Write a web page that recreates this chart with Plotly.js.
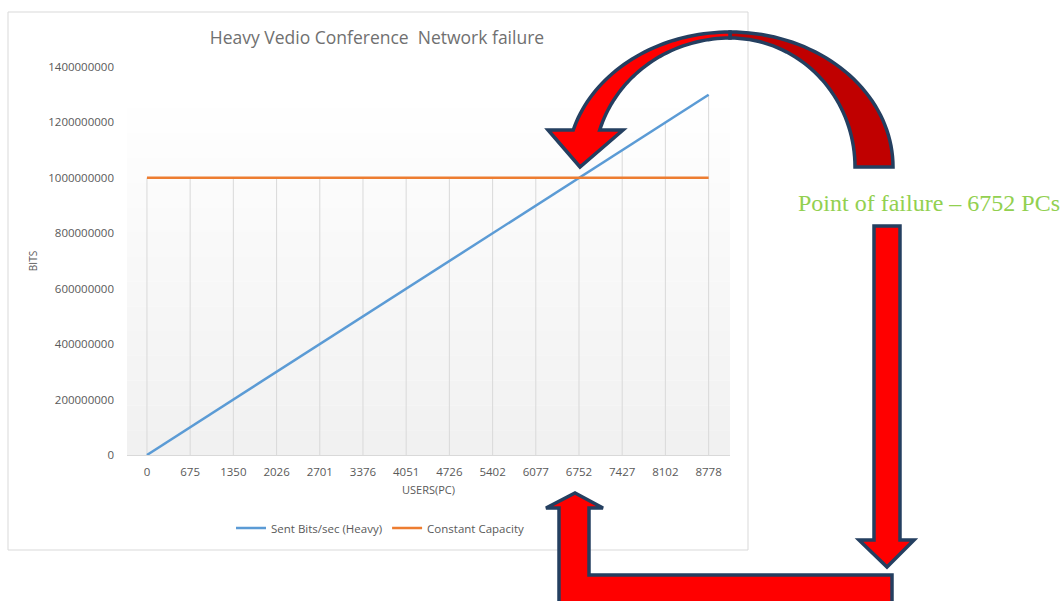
<!DOCTYPE html>
<html>
<head>
<meta charset="utf-8">
<script src="https://cdn.plot.ly/plotly-3.0.1.min.js"></script>
<style>
html,body{margin:0;padding:0;background:#fff;}
#chart{width:1063px;height:601px;}
</style>
</head>
<body>
<div id="chart"></div>
<script>
// ---- data ----
const users = [0, 675, 1350, 2026, 2701, 3376, 4051, 4726, 5402, 6077, 6752, 7427, 8102, 8778];
const userLabels = ["0","675","1350","2026","2701","3376","4051","4726","5402","6077","6752","7427","8102","8778"];
const sentBits = [0, 100000000, 200000000, 300000000, 400000000, 500000000, 600000000, 700000000, 800000000, 900000000, 1000000000, 1100000000, 1200000000, 1300000000];
const capacity = [1000000000, 1000000000, 1000000000, 1000000000, 1000000000, 1000000000, 1000000000, 1000000000, 1000000000, 1000000000, 1000000000, 1000000000, 1000000000, 1000000000];
const yTicks = [0, 200000000, 400000000, 600000000, 800000000, 1000000000, 1200000000, 1400000000];
const yTickLabels = ["0","200000000","400000000","600000000","800000000","1000000000","1200000000","1400000000"];
const seriesNames = ["Sent Bits/sec (Heavy)", "Constant Capacity"];
const titleText = "Heavy Vedio Conference&nbsp;&nbsp;Network failure";
const noteText = "Point of failure \u2013 6752 PCs";

// ---- geometry helpers (pixel -> paper) ----
const L = 127, T = 67, W = 603, H = 388, FW = 1063, FH = 601;
const px = x => (x - L) / W;
const py = y => 1 - (y - T) / H;
function pathOf(pts) {
  return 'M' + pts.map(p => px(p[0]).toFixed(5) + ',' + py(p[1]).toFixed(5)).join('L') + 'Z';
}
function ell(cx, cy, rx, ry, a0, a1, n) {
  const out = [];
  for (let i = 0; i <= n; i++) {
    const a = a0 + (a1 - a0) * i / n;
    out.push([cx + rx * Math.cos(a), cy - ry * Math.sin(a)]);
  }
  return out;
}

// drop lines from data
const dropX = [], dropY = [];
users.forEach((u, i) => {
  dropX.push(u, u, null);
  dropY.push(0, Math.max(sentBits[i], capacity[i]), null);
});

const traces = [
  {x: dropX, y: dropY, mode: 'lines', line: {color: '#d9d9d9', width: 1}, showlegend: false, hoverinfo: 'skip'},
  {x: users, y: sentBits, name: seriesNames[0], mode: 'lines', line: {color: '#5b9bd5', width: 2.5}},
  {x: users, y: capacity, name: seriesNames[1], mode: 'lines', line: {color: '#ed7d31', width: 2.5}}
];

// shapes
const shapes = [];
// chart box border
shapes.push({type: 'rect', xref: 'paper', yref: 'paper', x0: px(8), x1: px(748), y0: py(12), y1: py(550),
  line: {color: '#d9d9d9', width: 1}, fillcolor: 'rgba(0,0,0,0)', layer: 'below'});
// plot area gradient
const gTop = 108, gBot = 455, nb = 14;
for (let i = 0; i < nb; i++) {
  const y0 = gTop + (gBot - gTop) * i / nb, y1 = gTop + (gBot - gTop) * (i + 1) / nb;
  const c = Math.round(254 - (254 - 240) * (i + 0.5) / nb);
  shapes.push({type: 'rect', xref: 'paper', yref: 'paper', x0: 0, x1: 1, y0: py(y1), y1: py(y0),
    line: {width: 0}, fillcolor: `rgb(${c},${c},${c})`, layer: 'below'});
}

const navy = '#243f60';
const cx = 730, cy = 167;
// dark back part of curved arrow
{
  const outer = ell(cx, cy, 163, 135, Math.PI / 2, 0, 40);
  const inner = ell(cx, cy, 125, 129, 0, Math.PI / 2, 40);
  shapes.push({type: 'path', xref: 'paper', yref: 'paper', path: pathOf(outer.concat(inner)),
    fillcolor: '#c00000', line: {color: navy, width: 3.5}, layer: 'above'});
}
// bright front part with head
{
  const aO = Math.PI - Math.asin(37 / 135);
  const aI = Math.PI - Math.asin(37 / 129);
  const outer = ell(cx, cy, 163, 135, aO, Math.PI / 2, 40);
  const inner = ell(cx, cy, 136, 129, Math.PI / 2, aI, 40);
  const pts = [[548, 130]].concat(outer, inner, [[623, 130], [580, 167]]);
  shapes.push({type: 'path', xref: 'paper', yref: 'paper', path: pathOf(pts),
    fillcolor: '#ff0000', line: {color: navy, width: 3.5}, layer: 'above'});
}
// straight down arrow
shapes.push({type: 'path', xref: 'paper', yref: 'paper',
  path: pathOf([[874, 226], [900, 226], [900, 540], [914, 540], [887, 567], [859, 540], [874, 540]]),
  fillcolor: '#ff0000', line: {color: navy, width: 3.5}, layer: 'above'});
// bent up arrow
shapes.push({type: 'path', xref: 'paper', yref: 'paper',
  path: pathOf([[559, 610], [559, 508], [546, 508], [575, 493], [603, 508], [589, 508], [589, 575], [892, 575], [892, 610]]),
  fillcolor: '#ff0000', line: {color: navy, width: 3.5}, layer: 'above'});

const tickFont = {family: 'Open Sans, sans-serif', size: 11.5, color: '#595959'};

const layout = {
  width: FW, height: FH,
  margin: {l: L, r: FW - L - W, t: T, b: FH - T - H, pad: 0},
  paper_bgcolor: '#ffffff', plot_bgcolor: 'rgba(0,0,0,0)',
  title: {text: titleText, font: {family: 'Open Sans, sans-serif', size: 17.5, color: '#707070'},
    xref: 'container', yref: 'container', x: 377 / FW, y: 1 - 38 / FH, xanchor: 'center', yanchor: 'middle'},
  xaxis: {
    range: [-312, 9112], tickvals: users, ticktext: userLabels, showgrid: false, zeroline: false,
    showline: true, linecolor: '#d9d9d9', linewidth: 1, ticks: '', tickfont: tickFont,
    ticklabelstandoff: 6,
    title: {text: 'USERS(PC)', font: {family: 'Open Sans, sans-serif', size: 11, color: '#595959'}, standoff: 8}
  },
  yaxis: {
    range: [0, 1400000000], tickvals: yTicks, ticktext: yTickLabels, showgrid: false, zeroline: false,
    showline: false, ticks: '', tickfont: tickFont, ticklabelstandoff: 12,
    title: {text: 'BITS', font: {family: 'Open Sans, sans-serif', size: 10, color: '#595959'}, standoff: 8}
  },
  showlegend: true,
  legend: {orientation: 'h', x: px(380), xanchor: 'center', y: py(528), yanchor: 'middle',
    font: {family: 'Open Sans, sans-serif', size: 11.5, color: '#595959'}, bgcolor: 'rgba(0,0,0,0)', itemwidth: 30},
  shapes: shapes,
  annotations: [{text: noteText, xref: 'paper', yref: 'paper', x: px(929), y: py(203), xanchor: 'center', yanchor: 'middle',
    showarrow: false, font: {family: 'Liberation Serif, Times New Roman, serif', size: 24, color: '#92d050'}}]
};

Plotly.newPlot('chart', traces, layout, {displayModeBar: false, staticPlot: true});
</script>
</body>
</html>
